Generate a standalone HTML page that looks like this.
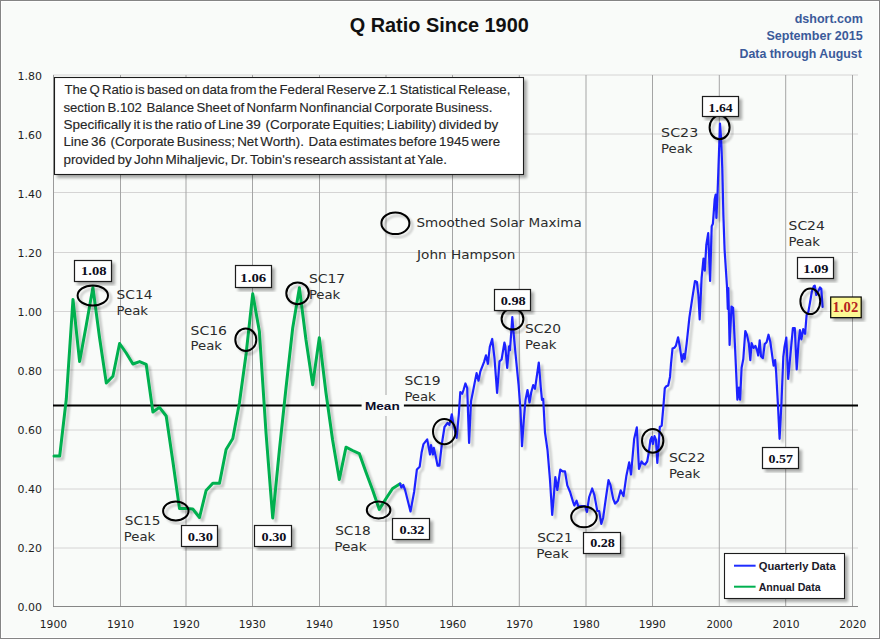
<!DOCTYPE html><html><head><meta charset="utf-8"><title>Q Ratio Since 1900</title>
<style>html,body{margin:0;padding:0;background:#f9fbf9;}svg{display:block;}</style></head><body>
<svg width="880" height="639" viewBox="0 0 880 639" font-family="'Liberation Sans', 'DejaVu Sans', sans-serif">
<defs><filter id="sh" x="-20%" y="-20%" width="140%" height="140%"><feGaussianBlur in="SourceAlpha" stdDeviation="0.9"/><feOffset dx="3" dy="3" result="b"/><feComponentTransfer><feFuncA type="linear" slope="0.22"/></feComponentTransfer><feMerge><feMergeNode/><feMergeNode in="SourceGraphic"/></feMerge></filter><filter id="shb" x="-20%" y="-20%" width="140%" height="140%"><feGaussianBlur in="SourceAlpha" stdDeviation="1.4"/><feOffset dx="3" dy="3" result="b"/><feComponentTransfer><feFuncA type="linear" slope="0.32"/></feComponentTransfer><feMerge><feMergeNode/><feMergeNode in="SourceGraphic"/></feMerge></filter></defs>
<rect x="0" y="0" width="880" height="639" fill="#f9fbf9"/>
<rect x="1.5" y="1.5" width="877" height="636" fill="none" stroke="#ffffff" stroke-width="1"/>
<rect x="0.5" y="0.5" width="879" height="638" fill="none" stroke="#858585" stroke-width="1"/>
<line x1="53" y1="75.0" x2="858" y2="75.0" stroke="#d5d4d4" stroke-width="1"/>
<line x1="53" y1="134.0" x2="858" y2="134.0" stroke="#d5d4d4" stroke-width="1"/>
<line x1="53" y1="192.5" x2="858" y2="192.5" stroke="#d5d4d4" stroke-width="1"/>
<line x1="53" y1="252.5" x2="858" y2="252.5" stroke="#d5d4d4" stroke-width="1"/>
<line x1="53" y1="311.5" x2="858" y2="311.5" stroke="#d5d4d4" stroke-width="1"/>
<line x1="53" y1="370.0" x2="858" y2="370.0" stroke="#d5d4d4" stroke-width="1"/>
<line x1="53" y1="430.0" x2="858" y2="430.0" stroke="#d5d4d4" stroke-width="1"/>
<line x1="53" y1="489.0" x2="858" y2="489.0" stroke="#d5d4d4" stroke-width="1"/>
<line x1="53" y1="548.0" x2="858" y2="548.0" stroke="#d5d4d4" stroke-width="1"/>
<line x1="120.5" y1="75" x2="120.5" y2="606" stroke="#a5a5a5" stroke-width="1"/>
<line x1="186.0" y1="75" x2="186.0" y2="606" stroke="#a5a5a5" stroke-width="1"/>
<line x1="252.5" y1="75" x2="252.5" y2="606" stroke="#a5a5a5" stroke-width="1"/>
<line x1="319.5" y1="75" x2="319.5" y2="606" stroke="#a5a5a5" stroke-width="1"/>
<line x1="386.0" y1="75" x2="386.0" y2="606" stroke="#a5a5a5" stroke-width="1"/>
<line x1="452.5" y1="75" x2="452.5" y2="606" stroke="#a5a5a5" stroke-width="1"/>
<line x1="519.3" y1="75" x2="519.3" y2="606" stroke="#a5a5a5" stroke-width="1"/>
<line x1="586.0" y1="75" x2="586.0" y2="606" stroke="#a5a5a5" stroke-width="1"/>
<line x1="652.5" y1="75" x2="652.5" y2="606" stroke="#a5a5a5" stroke-width="1"/>
<line x1="719.3" y1="75" x2="719.3" y2="606" stroke="#a5a5a5" stroke-width="1"/>
<line x1="785.7" y1="75" x2="785.7" y2="606" stroke="#a5a5a5" stroke-width="1"/>
<line x1="852.5" y1="75" x2="852.5" y2="606" stroke="#a5a5a5" stroke-width="1"/>
<line x1="53.5" y1="75" x2="53.5" y2="606" stroke="#9a9a9a" stroke-width="1"/>
<line x1="53" y1="606.5" x2="858" y2="606.5" stroke="#868686" stroke-width="1"/>
<text x="17.60" y="611.10" font-size="11.2" fill="#1e1e1e" font-family="'DejaVu Sans Condensed', 'DejaVu Sans', sans-serif" textLength="24.40" lengthAdjust="spacingAndGlyphs">0.00</text>
<text x="17.60" y="552.10" font-size="11.2" fill="#1e1e1e" font-family="'DejaVu Sans Condensed', 'DejaVu Sans', sans-serif" textLength="24.40" lengthAdjust="spacingAndGlyphs">0.20</text>
<text x="17.60" y="493.10" font-size="11.2" fill="#1e1e1e" font-family="'DejaVu Sans Condensed', 'DejaVu Sans', sans-serif" textLength="24.40" lengthAdjust="spacingAndGlyphs">0.40</text>
<text x="17.60" y="434.10" font-size="11.2" fill="#1e1e1e" font-family="'DejaVu Sans Condensed', 'DejaVu Sans', sans-serif" textLength="24.40" lengthAdjust="spacingAndGlyphs">0.60</text>
<text x="17.60" y="375.10" font-size="11.2" fill="#1e1e1e" font-family="'DejaVu Sans Condensed', 'DejaVu Sans', sans-serif" textLength="24.40" lengthAdjust="spacingAndGlyphs">0.80</text>
<text x="17.60" y="316.10" font-size="11.2" fill="#1e1e1e" font-family="'DejaVu Sans Condensed', 'DejaVu Sans', sans-serif" textLength="24.40" lengthAdjust="spacingAndGlyphs">1.00</text>
<text x="17.60" y="257.10" font-size="11.2" fill="#1e1e1e" font-family="'DejaVu Sans Condensed', 'DejaVu Sans', sans-serif" textLength="24.40" lengthAdjust="spacingAndGlyphs">1.20</text>
<text x="17.60" y="198.10" font-size="11.2" fill="#1e1e1e" font-family="'DejaVu Sans Condensed', 'DejaVu Sans', sans-serif" textLength="24.40" lengthAdjust="spacingAndGlyphs">1.40</text>
<text x="17.60" y="139.10" font-size="11.2" fill="#1e1e1e" font-family="'DejaVu Sans Condensed', 'DejaVu Sans', sans-serif" textLength="24.40" lengthAdjust="spacingAndGlyphs">1.60</text>
<text x="17.60" y="80.10" font-size="11.2" fill="#1e1e1e" font-family="'DejaVu Sans Condensed', 'DejaVu Sans', sans-serif" textLength="24.40" lengthAdjust="spacingAndGlyphs">1.80</text>
<text x="39.80" y="627.90" font-size="11.2" fill="#1e1e1e" font-family="'DejaVu Sans Condensed', 'DejaVu Sans', sans-serif" textLength="27.20" lengthAdjust="spacingAndGlyphs">1900</text>
<text x="106.96" y="627.90" font-size="11.2" fill="#1e1e1e" font-family="'DejaVu Sans Condensed', 'DejaVu Sans', sans-serif" textLength="27.20" lengthAdjust="spacingAndGlyphs">1910</text>
<text x="172.54" y="627.90" font-size="11.2" fill="#1e1e1e" font-family="'DejaVu Sans Condensed', 'DejaVu Sans', sans-serif" textLength="27.20" lengthAdjust="spacingAndGlyphs">1920</text>
<text x="238.70" y="627.90" font-size="11.2" fill="#1e1e1e" font-family="'DejaVu Sans Condensed', 'DejaVu Sans', sans-serif" textLength="27.20" lengthAdjust="spacingAndGlyphs">1930</text>
<text x="305.86" y="627.90" font-size="11.2" fill="#1e1e1e" font-family="'DejaVu Sans Condensed', 'DejaVu Sans', sans-serif" textLength="27.20" lengthAdjust="spacingAndGlyphs">1940</text>
<text x="372.02" y="627.90" font-size="11.2" fill="#1e1e1e" font-family="'DejaVu Sans Condensed', 'DejaVu Sans', sans-serif" textLength="27.20" lengthAdjust="spacingAndGlyphs">1950</text>
<text x="439.20" y="627.90" font-size="11.2" fill="#1e1e1e" font-family="'DejaVu Sans Condensed', 'DejaVu Sans', sans-serif" textLength="27.20" lengthAdjust="spacingAndGlyphs">1960</text>
<text x="505.96" y="627.90" font-size="11.2" fill="#1e1e1e" font-family="'DejaVu Sans Condensed', 'DejaVu Sans', sans-serif" textLength="27.20" lengthAdjust="spacingAndGlyphs">1970</text>
<text x="572.52" y="627.90" font-size="11.2" fill="#1e1e1e" font-family="'DejaVu Sans Condensed', 'DejaVu Sans', sans-serif" textLength="27.20" lengthAdjust="spacingAndGlyphs">1980</text>
<text x="638.70" y="627.90" font-size="11.2" fill="#1e1e1e" font-family="'DejaVu Sans Condensed', 'DejaVu Sans', sans-serif" textLength="27.20" lengthAdjust="spacingAndGlyphs">1990</text>
<text x="706.46" y="627.90" font-size="11.2" fill="#1e1e1e" font-family="'DejaVu Sans Condensed', 'DejaVu Sans', sans-serif" textLength="26.20" lengthAdjust="spacingAndGlyphs">2000</text>
<text x="772.42" y="627.90" font-size="11.2" fill="#1e1e1e" font-family="'DejaVu Sans Condensed', 'DejaVu Sans', sans-serif" textLength="27.20" lengthAdjust="spacingAndGlyphs">2010</text>
<text x="839.20" y="627.90" font-size="11.2" fill="#1e1e1e" font-family="'DejaVu Sans Condensed', 'DejaVu Sans', sans-serif" textLength="27.20" lengthAdjust="spacingAndGlyphs">2020</text>
<text x="349.70" y="31.90" font-size="20" font-weight="bold" fill="#111" textLength="179.10" lengthAdjust="spacingAndGlyphs">Q Ratio Since 1900</text>
<text x="794.70" y="22.50" font-size="13" font-weight="bold" fill="#3b5a9a" textLength="68.10" lengthAdjust="spacingAndGlyphs">dshort.com</text>
<text x="766.40" y="40.00" font-size="13" font-weight="bold" fill="#3b5a9a" textLength="96.40" lengthAdjust="spacingAndGlyphs">September 2015</text>
<text x="739.60" y="57.50" font-size="13" font-weight="bold" fill="#3b5a9a" textLength="122.20" lengthAdjust="spacingAndGlyphs">Data through August</text>
<rect x="361.6" y="395" width="42.3" height="21" fill="#f9fbf9"/>
<line x1="53" y1="405.4" x2="361.6" y2="405.4" stroke="#000" stroke-width="2"/>
<line x1="403.9" y1="405.4" x2="858" y2="405.4" stroke="#000" stroke-width="2"/>
<text x="365.00" y="410.00" font-size="11.5" font-weight="bold" fill="#0a0a28" font-family="'Liberation Sans', 'DejaVu Sans', sans-serif" textLength="34.70" lengthAdjust="spacingAndGlyphs">Mean</text>
<polyline points="54.0,456.0 59.7,456.0 66.3,399.0 73.0,299.4 79.6,361.5 86.3,325.0 92.9,287.5 99.6,338.0 106.3,383.0 112.9,376.3 119.6,343.5 126.2,353.0 132.9,364.0 139.6,361.6 146.2,364.3 152.9,412.0 159.5,407.3 166.2,416.0 172.8,461.0 179.5,508.6 186.2,508.6 192.8,509.0 199.5,517.5 206.1,490.5 212.8,483.2 219.5,483.2 226.1,449.5 232.8,438.5 239.4,403.0 246.1,354.0 252.7,293.8 259.4,331.6 266.1,434.0 272.7,518.0 279.4,450.0 286.0,388.0 292.7,328.0 299.4,287.8 306.0,340.0 312.7,384.8 319.3,337.8 326.0,393.0 332.6,440.0 339.3,479.4 346.0,447.2 352.6,450.5 359.3,453.6 365.9,472.0 372.6,490.0 379.3,509.4 385.9,498.8 392.6,488.5 400.1,483.8" fill="none" stroke="#00b050" stroke-width="3" stroke-linejoin="round" stroke-linecap="round" filter="url(#sh)"/>
<polyline points="400.1,483.8 401.3,487.5 403.2,485.0 405.1,490.0 410.5,511.5 414.1,492.0 416.9,469.5 419.7,466.7 421.6,452.6 423.5,444.1 427.2,439.4 430.0,454.5 431.0,445.0 432.9,454.5 433.8,447.9 435.7,456.3 437.6,465.7 439.4,465.7 442.0,443.0 444.5,427.0 447.5,423.0 449.4,425.0 451.8,414.3 453.3,423.5 456.6,437.8 458.8,414.5 460.3,392.0 462.2,393.8 463.5,390.0 465.4,383.5 467.2,388.2 469.1,443.0 471.0,401.4 472.9,392.0 474.7,382.6 476.6,373.2 478.5,380.7 480.4,371.3 484.1,361.9 486.0,355.4 487.9,363.8 489.8,346.9 492.2,339.0 494.5,358.2 497.1,393.0 499.5,361.4 501.6,359.5 504.4,342.6 505.3,346.3 507.2,368.0 509.1,346.3 510.0,350.1 512.3,317.2 513.8,335.1 515.7,355.7 518.6,385.0 520.5,410.0 522.0,446.2 523.8,420.0 525.5,400.0 527.5,390.0 529.5,402.5 531.2,392.5 533.2,385.0 535.0,388.8 538.8,362.5 540.8,387.5 542.0,400.0 543.2,398.8 545.0,432.5 547.5,450.0 550.0,480.0 552.2,515.0 553.9,495.0 555.3,477.0 557.3,490.0 560.3,469.5 562.6,471.4 565.0,471.4 567.3,485.4 570.1,492.0 572.9,501.4 574.3,505.5 576.6,500.7 578.3,506.4 581.5,506.2 585.1,506.0 586.9,512.0 589.2,497.0 592.2,488.5 594.4,495.1 597.3,511.0 599.2,511.1 601.3,523.8 603.1,518.0 605.9,498.0 608.5,480.1 610.4,484.8 613.2,498.9 615.1,503.6 617.9,500.8 620.7,490.4 623.5,496.1 626.3,476.3 629.2,462.3 631.0,474.5 634.2,438.7 636.8,427.4 639.0,469.0 641.5,461.5 643.0,463.5 645.0,464.5 647.2,461.5 648.7,453.0 650.4,440.0 651.8,437.0 652.9,444.0 654.5,436.1 656.0,440.0 657.3,463.0 658.8,443.0 659.8,427.0 661.7,425.6 663.5,405.1 664.8,388.2 666.3,386.3 668.2,385.4 670.0,376.9 671.0,363.8 672.5,348.6 674.4,347.7 675.9,345.8 678.1,337.3 680.0,347.7 681.9,361.7 683.4,354.2 684.7,358.9 686.6,343.9 689.4,317.6 692.2,298.8 695.0,281.0 696.9,281.9 698.4,295.1 699.7,319.5 701.6,278.2 703.5,258.5 704.8,270.7 706.3,245.0 708.2,233.2 710.1,281.0 711.7,226.2 712.9,223.8 714.7,199.2 715.7,194.5 716.4,218.0 717.6,192.2 720.0,123.5 721.1,138.2 722.3,168.7 723.4,215.6 724.6,250.0 727.0,286.5 727.8,309.0 728.3,288.0 729.6,345.0 731.5,306.5 733.1,307.8 735.0,346.4 737.4,399.6 738.9,387.6 740.1,399.6 741.6,367.7 743.3,359.0 745.3,331.0 746.9,334.7 748.8,343.2 750.3,360.1 751.6,343.2 753.5,347.9 755.4,346.0 757.2,350.7 758.2,355.4 759.7,340.4 761.0,356.3 762.9,358.2 764.7,344.1 766.6,342.3 768.5,334.7 770.4,342.3 772.3,356.3 773.6,365.7 775.1,360.1 776.1,371.4 777.8,402.0 779.6,438.8 781.5,402.0 783.3,357.0 784.5,346.9 786.3,337.6 788.2,378.9 790.1,358.2 792.9,328.2 794.8,328.2 796.7,369.5 798.5,343.2 799.9,330.0 801.4,339.4 803.2,329.1 805.1,333.8 806.6,315.0 808.2,312.6 810.0,302.6 811.9,291.3 813.8,286.3 814.8,285.7 816.3,295.0 818.2,291.3 820.0,287.5 821.3,288.8 822.6,307.0" fill="none" stroke="#1e24ff" stroke-width="2.2" stroke-linejoin="round" stroke-linecap="round" filter="url(#sh)"/>
<ellipse cx="92.8" cy="295.5" rx="15.2" ry="10.1" fill="none" stroke="#000" stroke-width="2" filter="url(#sh)"/>
<ellipse cx="175.8" cy="510.9" rx="12.7" ry="9.5" fill="none" stroke="#000" stroke-width="2" filter="url(#sh)"/>
<ellipse cx="245.8" cy="339.7" rx="10.5" ry="11.3" fill="none" stroke="#000" stroke-width="2" filter="url(#sh)"/>
<ellipse cx="297.6" cy="293.3" rx="11.3" ry="10.9" fill="none" stroke="#000" stroke-width="2" filter="url(#sh)"/>
<ellipse cx="378.6" cy="510.0" rx="11.8" ry="8.4" fill="none" stroke="#000" stroke-width="2" filter="url(#sh)"/>
<ellipse cx="444.3" cy="431.6" rx="11.3" ry="12.6" fill="none" stroke="#000" stroke-width="2" filter="url(#sh)"/>
<ellipse cx="512.5" cy="319.0" rx="10.9" ry="10.6" fill="none" stroke="#000" stroke-width="2" filter="url(#sh)"/>
<ellipse cx="584.0" cy="516.8" rx="12.8" ry="10.4" fill="none" stroke="#000" stroke-width="2" filter="url(#sh)"/>
<ellipse cx="652.7" cy="440.8" rx="10.7" ry="11.9" fill="none" stroke="#000" stroke-width="2" filter="url(#sh)"/>
<ellipse cx="719.6" cy="127.4" rx="10.0" ry="11.8" fill="none" stroke="#000" stroke-width="2" filter="url(#sh)"/>
<ellipse cx="810.3" cy="301.3" rx="9.9" ry="12.8" fill="none" stroke="#000" stroke-width="2" filter="url(#sh)"/>
<ellipse cx="395.4" cy="223.3" rx="14.0" ry="10.8" fill="none" stroke="#000" stroke-width="2" filter="url(#sh)"/>
<text x="116.60" y="298.90" font-size="12.3" fill="#2b2b2b" font-family="'DejaVu Sans Condensed', 'DejaVu Sans', sans-serif" textLength="35.90" lengthAdjust="spacingAndGlyphs">SC14</text>
<text x="116.60" y="315.30" font-size="12.3" fill="#2b2b2b" font-family="'DejaVu Sans Condensed', 'DejaVu Sans', sans-serif" textLength="31.40" lengthAdjust="spacingAndGlyphs">Peak</text>
<text x="124.80" y="524.60" font-size="12.3" fill="#2b2b2b" font-family="'DejaVu Sans Condensed', 'DejaVu Sans', sans-serif" textLength="35.60" lengthAdjust="spacingAndGlyphs">SC15</text>
<text x="123.80" y="540.70" font-size="12.3" fill="#2b2b2b" font-family="'DejaVu Sans Condensed', 'DejaVu Sans', sans-serif" textLength="31.40" lengthAdjust="spacingAndGlyphs">Peak</text>
<text x="190.60" y="334.80" font-size="12.3" fill="#2b2b2b" font-family="'DejaVu Sans Condensed', 'DejaVu Sans', sans-serif" textLength="36.40" lengthAdjust="spacingAndGlyphs">SC16</text>
<text x="190.60" y="350.40" font-size="12.3" fill="#2b2b2b" font-family="'DejaVu Sans Condensed', 'DejaVu Sans', sans-serif" textLength="31.40" lengthAdjust="spacingAndGlyphs">Peak</text>
<text x="308.90" y="282.60" font-size="12.3" fill="#2b2b2b" font-family="'DejaVu Sans Condensed', 'DejaVu Sans', sans-serif" textLength="36.30" lengthAdjust="spacingAndGlyphs">SC17</text>
<text x="308.90" y="298.80" font-size="12.3" fill="#2b2b2b" font-family="'DejaVu Sans Condensed', 'DejaVu Sans', sans-serif" textLength="31.40" lengthAdjust="spacingAndGlyphs">Peak</text>
<text x="335.20" y="535.10" font-size="12.3" fill="#2b2b2b" font-family="'DejaVu Sans Condensed', 'DejaVu Sans', sans-serif" textLength="35.60" lengthAdjust="spacingAndGlyphs">SC18</text>
<text x="334.20" y="551.30" font-size="12.3" fill="#2b2b2b" font-family="'DejaVu Sans Condensed', 'DejaVu Sans', sans-serif" textLength="32.40" lengthAdjust="spacingAndGlyphs">Peak</text>
<text x="404.40" y="385.00" font-size="12.3" fill="#2b2b2b" font-family="'DejaVu Sans Condensed', 'DejaVu Sans', sans-serif" textLength="36.20" lengthAdjust="spacingAndGlyphs">SC19</text>
<text x="404.40" y="401.00" font-size="12.3" fill="#2b2b2b" font-family="'DejaVu Sans Condensed', 'DejaVu Sans', sans-serif" textLength="31.40" lengthAdjust="spacingAndGlyphs">Peak</text>
<text x="525.10" y="332.60" font-size="12.3" fill="#2b2b2b" font-family="'DejaVu Sans Condensed', 'DejaVu Sans', sans-serif" textLength="36.00" lengthAdjust="spacingAndGlyphs">SC20</text>
<text x="525.10" y="348.80" font-size="12.3" fill="#2b2b2b" font-family="'DejaVu Sans Condensed', 'DejaVu Sans', sans-serif" textLength="31.40" lengthAdjust="spacingAndGlyphs">Peak</text>
<text x="537.20" y="542.20" font-size="12.3" fill="#2b2b2b" font-family="'DejaVu Sans Condensed', 'DejaVu Sans', sans-serif" textLength="35.50" lengthAdjust="spacingAndGlyphs">SC21</text>
<text x="536.20" y="558.10" font-size="12.3" fill="#2b2b2b" font-family="'DejaVu Sans Condensed', 'DejaVu Sans', sans-serif" textLength="32.40" lengthAdjust="spacingAndGlyphs">Peak</text>
<text x="668.90" y="462.30" font-size="12.3" fill="#2b2b2b" font-family="'DejaVu Sans Condensed', 'DejaVu Sans', sans-serif" textLength="36.50" lengthAdjust="spacingAndGlyphs">SC22</text>
<text x="668.90" y="478.40" font-size="12.3" fill="#2b2b2b" font-family="'DejaVu Sans Condensed', 'DejaVu Sans', sans-serif" textLength="31.40" lengthAdjust="spacingAndGlyphs">Peak</text>
<text x="661.10" y="136.80" font-size="12.3" fill="#2b2b2b" font-family="'DejaVu Sans Condensed', 'DejaVu Sans', sans-serif" textLength="37.10" lengthAdjust="spacingAndGlyphs">SC23</text>
<text x="661.10" y="152.90" font-size="12.3" fill="#2b2b2b" font-family="'DejaVu Sans Condensed', 'DejaVu Sans', sans-serif" textLength="31.40" lengthAdjust="spacingAndGlyphs">Peak</text>
<text x="788.60" y="229.90" font-size="12.3" fill="#2b2b2b" font-family="'DejaVu Sans Condensed', 'DejaVu Sans', sans-serif" textLength="36.20" lengthAdjust="spacingAndGlyphs">SC24</text>
<text x="788.60" y="245.80" font-size="12.3" fill="#2b2b2b" font-family="'DejaVu Sans Condensed', 'DejaVu Sans', sans-serif" textLength="31.40" lengthAdjust="spacingAndGlyphs">Peak</text>
<text x="416.50" y="226.80" font-size="12.3" fill="#2b2b2b" font-family="'DejaVu Sans Condensed', 'DejaVu Sans', sans-serif" textLength="165.30" lengthAdjust="spacingAndGlyphs">Smoothed Solar Maxima</text>
<text x="417.10" y="259.30" font-size="12.3" fill="#2b2b2b" font-family="'DejaVu Sans Condensed', 'DejaVu Sans', sans-serif" textLength="98.40" lengthAdjust="spacingAndGlyphs">John Hampson</text>
<rect x="74.5" y="260.5" width="37" height="21" fill="#ffffff" stroke="#1c1c1c" stroke-width="1.2" filter="url(#shb)"/>
<text x="81.00" y="275.10" font-size="13.1" font-weight="bold" fill="#0d0d20" font-family="'Liberation Serif', 'DejaVu Serif', serif" textLength="25.50" lengthAdjust="spacingAndGlyphs">1.08</text>
<rect x="181.5" y="525.5" width="36" height="21" fill="#ffffff" stroke="#1c1c1c" stroke-width="1.2" filter="url(#shb)"/>
<text x="187.70" y="541.00" font-size="13.1" font-weight="bold" fill="#0d0d20" font-family="'Liberation Serif', 'DejaVu Serif', serif" textLength="25.30" lengthAdjust="spacingAndGlyphs">0.30</text>
<rect x="235.5" y="265.5" width="36" height="22" fill="#ffffff" stroke="#1c1c1c" stroke-width="1.2" filter="url(#shb)"/>
<text x="240.30" y="281.70" font-size="13.1" font-weight="bold" fill="#0d0d20" font-family="'Liberation Serif', 'DejaVu Serif', serif" textLength="26.00" lengthAdjust="spacingAndGlyphs">1.06</text>
<rect x="254.5" y="525.5" width="37" height="21" fill="#ffffff" stroke="#1c1c1c" stroke-width="1.2" filter="url(#shb)"/>
<text x="261.60" y="541.00" font-size="13.1" font-weight="bold" fill="#0d0d20" font-family="'Liberation Serif', 'DejaVu Serif', serif" textLength="24.90" lengthAdjust="spacingAndGlyphs">0.30</text>
<rect x="392.5" y="518.5" width="37" height="21" fill="#ffffff" stroke="#1c1c1c" stroke-width="1.2" filter="url(#shb)"/>
<text x="399.50" y="533.90" font-size="13.1" font-weight="bold" fill="#0d0d20" font-family="'Liberation Serif', 'DejaVu Serif', serif" textLength="25.00" lengthAdjust="spacingAndGlyphs">0.32</text>
<rect x="494.5" y="289.5" width="36" height="21" fill="#ffffff" stroke="#1c1c1c" stroke-width="1.2" filter="url(#shb)"/>
<text x="500.70" y="304.50" font-size="13.1" font-weight="bold" fill="#0d0d20" font-family="'Liberation Serif', 'DejaVu Serif', serif" textLength="25.00" lengthAdjust="spacingAndGlyphs">0.98</text>
<rect x="583.5" y="532.5" width="37" height="21" fill="#ffffff" stroke="#1c1c1c" stroke-width="1.2" filter="url(#shb)"/>
<text x="590.20" y="547.30" font-size="13.1" font-weight="bold" fill="#0d0d20" font-family="'Liberation Serif', 'DejaVu Serif', serif" textLength="24.70" lengthAdjust="spacingAndGlyphs">0.28</text>
<rect x="702.5" y="96.5" width="36" height="20" fill="#ffffff" stroke="#1c1c1c" stroke-width="1.2" filter="url(#shb)"/>
<text x="708.60" y="111.70" font-size="13.1" font-weight="bold" fill="#0d0d20" font-family="'Liberation Serif', 'DejaVu Serif', serif" textLength="24.00" lengthAdjust="spacingAndGlyphs">1.64</text>
<rect x="762.5" y="447.5" width="36" height="21" fill="#ffffff" stroke="#1c1c1c" stroke-width="1.2" filter="url(#shb)"/>
<text x="768.50" y="462.70" font-size="13.1" font-weight="bold" fill="#0d0d20" font-family="'Liberation Serif', 'DejaVu Serif', serif" textLength="24.40" lengthAdjust="spacingAndGlyphs">0.57</text>
<rect x="797.5" y="257.5" width="36" height="21" fill="#ffffff" stroke="#1c1c1c" stroke-width="1.2" filter="url(#shb)"/>
<text x="803.20" y="272.60" font-size="13.1" font-weight="bold" fill="#0d0d20" font-family="'Liberation Serif', 'DejaVu Serif', serif" textLength="25.20" lengthAdjust="spacingAndGlyphs">1.09</text>
<rect x="830.7" y="297.0" width="30.5" height="20.7" fill="#fcf894" stroke="#000" stroke-width="1.2" filter="url(#shb)"/>
<text x="832.60" y="312.20" font-size="14" font-weight="bold" fill="#b4221f" font-family="'Liberation Serif', 'DejaVu Serif', serif" textLength="25.60" lengthAdjust="spacingAndGlyphs">1.02</text>
<rect x="54.5" y="77.5" width="469" height="97" fill="#ffffff" stroke="#1c1c1c" stroke-width="1.1" filter="url(#shb)"/>
<text x="64.40" y="94.40" font-size="12.2" fill="#262626" stroke="#262626" stroke-width="0.12" word-spacing="-1.3" textLength="446.00" lengthAdjust="spacingAndGlyphs" xml:space="preserve">The Q Ratio is based on data from the Federal Reserve Z.1 Statistical Release,</text>
<text x="63.40" y="111.60" font-size="12.2" fill="#262626" stroke="#262626" stroke-width="0.12" word-spacing="-1.3" textLength="429.00" lengthAdjust="spacingAndGlyphs" xml:space="preserve">section B.102  Balance Sheet of Nonfarm Nonfinancial Corporate Business.</text>
<text x="63.40" y="128.90" font-size="12.2" fill="#262626" stroke="#262626" stroke-width="0.12" word-spacing="-1.3" textLength="434.80" lengthAdjust="spacingAndGlyphs" xml:space="preserve">Specifically it is the ratio of Line 39  (Corporate Equities; Liability) divided by</text>
<text x="63.40" y="146.40" font-size="12.2" fill="#262626" stroke="#262626" stroke-width="0.12" word-spacing="-1.3" textLength="436.80" lengthAdjust="spacingAndGlyphs" xml:space="preserve">Line 36  (Corporate Business; Net Worth).  Data estimates before 1945 were</text>
<text x="63.40" y="163.80" font-size="12.2" fill="#262626" stroke="#262626" stroke-width="0.12" word-spacing="-1.3" textLength="383.60" lengthAdjust="spacingAndGlyphs" xml:space="preserve">provided by John Mihaljevic, Dr. Tobin's research assistant at Yale.</text>
<rect x="724.5" y="553.5" width="120" height="45" fill="#ffffff" stroke="#1c1c1c" stroke-width="1.1" filter="url(#shb)"/>
<line x1="734" y1="565.7" x2="755.6" y2="565.7" stroke="#1f2dff" stroke-width="2"/>
<line x1="734" y1="586.7" x2="755.6" y2="586.7" stroke="#00b050" stroke-width="2"/>
<text x="758.70" y="569.70" font-size="11.3" font-weight="bold" fill="#1a1a2a" textLength="77.10" lengthAdjust="spacingAndGlyphs">Quarterly Data</text>
<text x="758.70" y="590.60" font-size="11.3" font-weight="bold" fill="#1a1a2a" textLength="62.00" lengthAdjust="spacingAndGlyphs">Annual Data</text>
</svg></body></html>
